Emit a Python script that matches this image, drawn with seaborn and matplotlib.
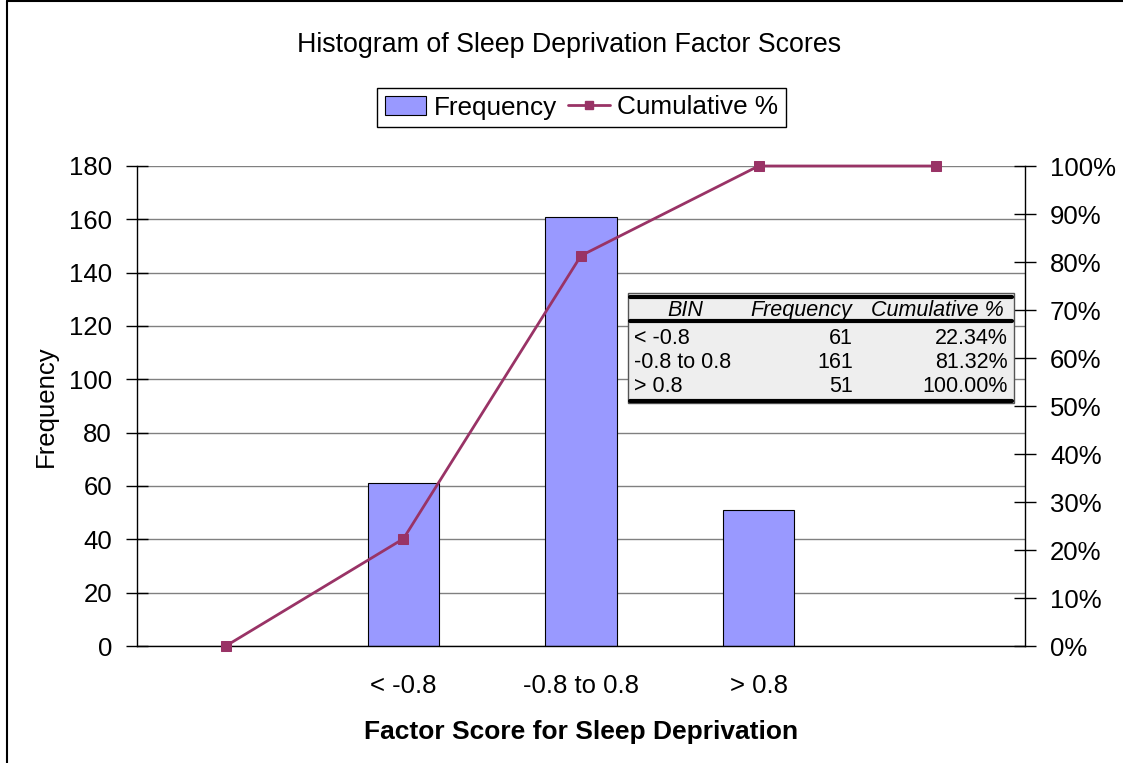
import numpy as np
import pandas as pd
import matplotlib
matplotlib.use("Agg")
import matplotlib.pyplot as plt
import seaborn as sns
from matplotlib.lines import Line2D
from matplotlib.patches import Patch, Rectangle

# Histogram bins (blank bins pad the ends of the category axis)
bins = ["", "< -0.8", "-0.8 to 0.8", "> 0.8", " "]
frequency = [np.nan, 61, 161, 51, np.nan]
cumulative_pct = [0.0, 22.34, 81.32, 100.0, 100.0]

# Summary table
table_bins = ["< -0.8", "-0.8 to 0.8", "> 0.8"]
table_freq = [61, 161, 51]
table_cum = [22.34, 81.32, 100.00]

BAR = "#9999FF"
LINE = "#993366"
W, H = 1123, 763


def fx(px):
    return px / W


def fy(py):
    return 1 - py / H


sns.set_theme(style="white")
plt.rcParams["font.family"] = ["Liberation Sans", "DejaVu Sans"]
plt.rcParams.update({"text.color": "black", "axes.labelcolor": "black",
                     "xtick.color": "black", "ytick.color": "black"})

fig = plt.figure(figsize=(W / 100, H / 100), dpi=100)
fig.patch.set_facecolor("white")
ax = fig.add_axes([fx(137), fy(646), (1025 - 137) / W, (646 - 166) / H])

df = pd.DataFrame({"bin": bins, "freq": frequency})
sns.barplot(data=df, x="bin", y="freq", order=bins, color=BAR, saturation=1,
            width=0.4, edgecolor="black", linewidth=0.8, ax=ax, zorder=2)

ax.set_xlim(-0.5, 4.5)
ax.set_ylim(0, 180)
ax.set_yticks(range(0, 181, 20))
ax.yaxis.grid(True, color="#808080", linewidth=1)
ax.set_axisbelow(True)
ax.set_xlabel("Factor Score for Sleep Deprivation", fontsize=19, fontweight="bold", labelpad=16)
ax.set_ylabel("Frequency", fontsize=18.5, labelpad=8)
for s in ["top", "right"]:
    ax.spines[s].set_visible(False)
for s in ["left", "bottom"]:
    ax.spines[s].set_color("black")
    ax.spines[s].set_linewidth(1)
ax.set_xticks(range(len(bins)))
ax.set_xticklabels(bins)
ax.set_xticks([0.5, 1.5, 2.5, 3.5], minor=True)
ax.tick_params(axis="x", which="major", length=0, labelsize=18.5, pad=20)
ax.tick_params(axis="x", which="minor", direction="inout", length=18, width=1, color="black")
ax.tick_params(axis="y", direction="inout", length=16, width=1, color="black", labelsize=18.5, pad=10)

ax2 = ax.twinx()
sns.lineplot(x=np.arange(len(bins)), y=cumulative_pct, ax=ax2, color=LINE, linewidth=2,
             marker="s", markersize=7, markeredgecolor=LINE, clip_on=False)
ax2.set_ylim(0, 100)
ax2.set_xlim(-0.5, 4.5)
ax2.set_yticks(range(0, 101, 10))
ax2.set_yticklabels([f"{v}%" for v in range(0, 101, 10)])
for s in ["top", "left", "bottom"]:
    ax2.spines[s].set_visible(False)
ax2.spines["right"].set_color("black")
ax2.spines["right"].set_linewidth(1)
ax2.tick_params(axis="y", direction="inout", length=16, width=1, color="black", labelsize=18.5, pad=10)
ax2.set_ylabel("")
ax2.grid(False)

fig.text(fx(569), fy(45), "Histogram of Sleep Deprivation Factor Scores",
         ha="center", va="center", fontsize=19.3)

handles = [Patch(facecolor=BAR, edgecolor="black", linewidth=0.8),
           Line2D([0], [0], color=LINE, lw=2, marker="s", markersize=6)]
leg = fig.legend(handles, ["Frequency", "Cumulative %"], loc="center",
                 bbox_to_anchor=(fx(581.5), fy(107.5)), ncol=2, fontsize=18.8,
                 frameon=True, fancybox=False, edgecolor="black", framealpha=1,
                 borderpad=0.3, borderaxespad=0, handlelength=1.6, handletextpad=0.3,
                 columnspacing=0.4)
leg.get_frame().set_linewidth(1)

# Summary table drawn over the plot area
fig.add_artist(Rectangle((fx(628), fy(403)), (1014 - 628) / W, (403 - 293) / H,
                         transform=fig.transFigure, facecolor="#EEEEEE",
                         edgecolor="#555555", linewidth=1, zorder=3))
for yy in [297, 321, 401]:
    fig.add_artist(Line2D([fx(630), fx(1012)], [fy(yy), fy(yy)], transform=fig.transFigure,
                          color="black", linewidth=3, zorder=4))
tfs = 15.5
fig.text(fx(685), fy(310), "BIN", ha="center", va="center", fontsize=tfs, style="italic", zorder=5)
fig.text(fx(801), fy(310), "Frequency", ha="center", va="center", fontsize=tfs, style="italic", zorder=5)
fig.text(fx(937), fy(310), "Cumulative %", ha="center", va="center", fontsize=tfs, style="italic", zorder=5)
for i, (b, f, c) in enumerate(zip(table_bins, table_freq, table_cum)):
    yy = 338 + i * 24.5
    fig.text(fx(634), fy(yy), b, ha="left", va="center", fontsize=tfs, zorder=5)
    fig.text(fx(853), fy(yy), f"{f}", ha="right", va="center", fontsize=tfs, zorder=5)
    fig.text(fx(1008), fy(yy), f"{c:.2f}%", ha="right", va="center", fontsize=tfs, zorder=5)

# Chart area border (top and left edges)
fig.add_artist(Line2D([fx(7), 1], [fy(1), fy(1)], transform=fig.transFigure, color="black", lw=1.5))
fig.add_artist(Line2D([fx(7), fx(7)], [0, fy(1)], transform=fig.transFigure, color="black", lw=1.5))

fig.savefig("out.png", dpi=100)
